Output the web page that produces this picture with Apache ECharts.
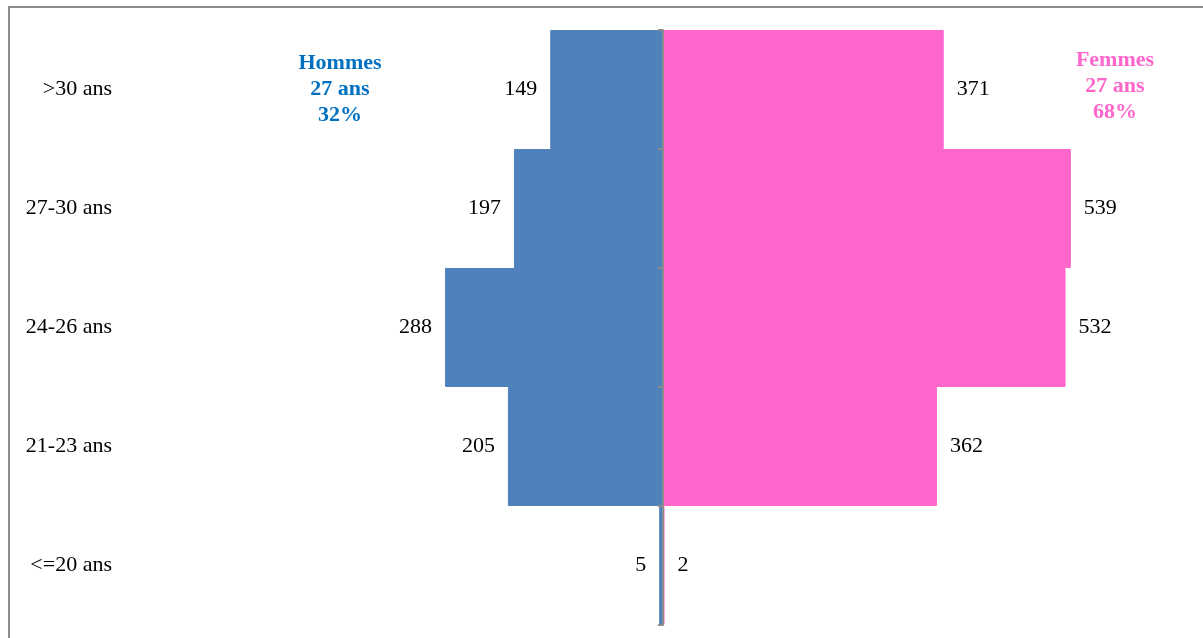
<!DOCTYPE html>
<html>
<head>
<meta charset="utf-8">
<script src="https://cdn.jsdelivr.net/npm/echarts@6/dist/echarts.min.js"></script>
<style>
html,body{margin:0;padding:0;background:#fff;}
#c{width:1203px;height:638px;}
</style>
</head>
<body>
<div id="c"></div>
<script>
// Top-down order as in the picture
const categories = ['>30 ans', '27-30 ans', '24-26 ans', '21-23 ans', '<=20 ans'];
const hommes = [149, 197, 288, 205, 5];
const femmes = [371, 539, 532, 362, 2];
const hommesNote = ['Hommes', '27 ans', '32%'];
const femmesNote = ['Femmes', '27 ans', '68%'];

const FONT = '"Liberation Serif", "Times New Roman", serif';
const chart = echarts.init(document.getElementById('c'));
chart.setOption({
  animation: false,
  backgroundColor: '#fff',
  grid: { left: 209, right: 86, top: 30, bottom: 13 },
  xAxis: {
    type: 'value', min: -600, max: 600,
    show: false,
    splitLine: { show: false }
  },
  yAxis: [
    {
      type: 'category', data: categories, inverse: true, position: 'left',
      axisLine: { show: false, onZero: false },
      axisTick: { show: false },
      axisLabel: { color: '#000', fontFamily: FONT, fontSize: 22, margin: 97, align: 'right' }
    },
    {
      type: 'category', data: categories, inverse: true, position: 'left', z: 10,
      axisLine: { show: true, onZero: true, lineStyle: { color: '#8c8c8c', width: 2 } },
      axisTick: { show: true, length: 5, lineStyle: { color: '#8c8c8c', width: 2 } },
      axisLabel: { show: false }
    }
  ],
  series: [
    {
      name: 'Hommes', type: 'bar', yAxisIndex: 0,
      data: hommes.map(v => -v),
      barWidth: '100%', barGap: '-100%',
      itemStyle: { color: '#4F81BD', borderColor: '#4F81BD', borderWidth: 1 },
      label: {
        show: true, position: 'left', distance: 13,
        color: '#000', fontFamily: FONT, fontSize: 22,
        formatter: p => Math.abs(p.value)
      }
    },
    {
      name: 'Femmes', type: 'bar', yAxisIndex: 0,
      data: femmes,
      barWidth: '100%', barGap: '-100%',
      itemStyle: { color: '#FF66CC', borderColor: '#FF66CC', borderWidth: 1 },
      label: {
        show: true, position: 'right', distance: 13,
        color: '#000', fontFamily: FONT, fontSize: 22
      }
    }
  ],
  graphic: [
    {
      type: 'rect', silent: true, z: 0,
      shape: { x: 9, y: 7, width: 1400, height: 800 },
      style: { fill: 'none', stroke: '#8c8c8c', lineWidth: 2 }
    },
    {
      type: 'text', left: 340 - 60, top: 50, z: 20,
      style: {
        text: hommesNote.join('\n'), width: 120, align: 'center',
        x: 60, textAlign: 'center',
        font: 'bold 22px ' + FONT, fill: '#0070C0', lineHeight: 26
      }
    },
    {
      type: 'text', left: 1115 - 60, top: 47, z: 20,
      style: {
        text: femmesNote.join('\n'), width: 120, align: 'center',
        x: 60, textAlign: 'center',
        font: 'bold 22px ' + FONT, fill: '#FF66CC', lineHeight: 26
      }
    }
  ]
});
</script>
</body>
</html>
